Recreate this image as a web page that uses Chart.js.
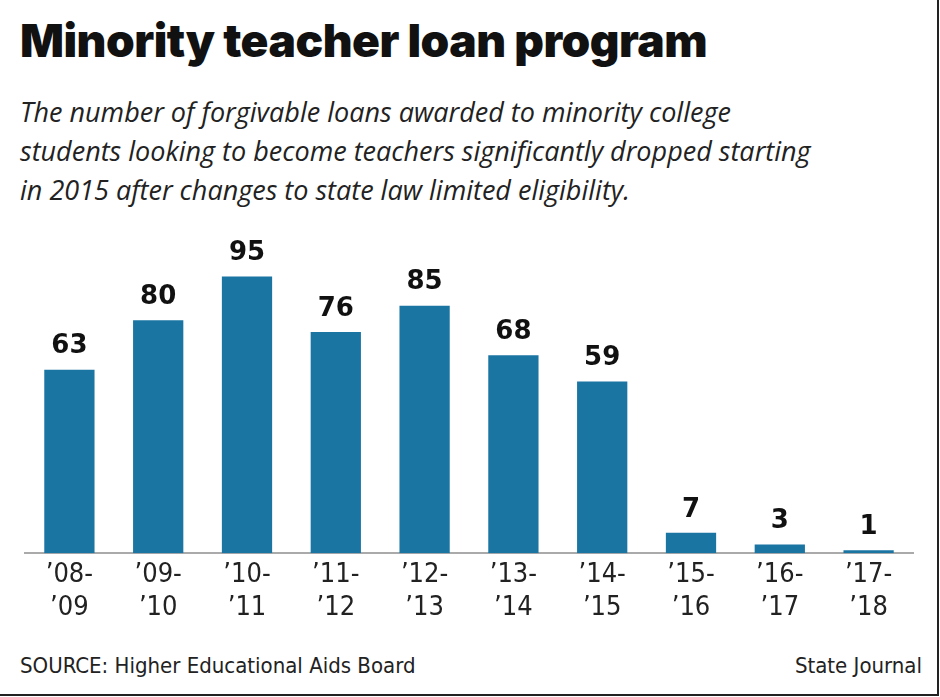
<!DOCTYPE html>
<html>
<head>
<meta charset="utf-8">
<script src="https://cdn.jsdelivr.net/npm/chart.js@4"></script>
<style>
  body { margin: 0; background: #fff; width: 940px; height: 697px; overflow: hidden; }
  #frame { position: absolute; left: 0; top: 0; width: 937px; height: 694px; border-right: 2px solid #222; border-bottom: 2px solid #222; }
  h1 { position: absolute; left: 20px; top: 12px; margin: 0; font: 900 46px Inter, sans-serif; letter-spacing: -0.5px; color: #111; }
  #sub { position: absolute; left: 20px; top: 92px; width: 910px; font: italic 27px "Open Sans", sans-serif; line-height: 39px; color: #222; white-space: nowrap; }
  #wrap { position: absolute; left: 0; top: 200px; width: 940px; height: 440px; }
  .foot { position: absolute; top: 653px; font: 22px "DejaVu Sans Condensed", "DejaVu Sans", sans-serif; color: #222; }
</style>
</head>
<body>
<div id="frame"></div>
<h1>Minority teacher loan program</h1>
<div id="sub">The number of forgivable loans awarded to minority college<br>students looking to become teachers significantly dropped starting<br>in 2015 after changes to state law limited eligibility.</div>
<div id="wrap"><canvas id="chart"></canvas></div>
<div class="foot" style="left:20px">SOURCE: Higher Educational Aids Board</div>
<div class="foot" style="right:18px">State Journal</div>
<script>
const categories = [['’08-', '’09'], ['’09-', '’10'], ['’10-', '’11'], ['’11-', '’12'], ['’12-', '’13'],
                    ['’13-', '’14'], ['’14-', '’15'], ['’15-', '’16'], ['’16-', '’17'], ['’17-', '’18']];
const loans = [63, 80, 95, 76, 85, 68, 59, 7, 3, 1];

const barLabels = {
  id: 'barLabels',
  afterDatasetsDraw(chart) {
    const c = chart.ctx;
    c.save();
    c.font = 'bold 26px "DejaVu Sans", sans-serif';
    c.fillStyle = '#111';
    c.textAlign = 'center';
    c.textBaseline = 'bottom';
    chart.getDatasetMeta(0).data.forEach((bar, i) => {
      c.fillText(loans[i], bar.x, bar.y - 10);
    });
    c.restore();
  }
};

new Chart(document.getElementById('chart'), {
  type: 'bar',
  data: {
    labels: categories,
    datasets: [{
      data: loans,
      backgroundColor: '#1a75a3',
      categoryPercentage: 1,
      barPercentage: 0.566
    }]
  },
  options: {
    responsive: true,
    maintainAspectRatio: false,
    animation: false,
    layout: { padding: { left: 25, right: 27, top: 62, bottom: 10 } },
    plugins: { legend: { display: false }, tooltip: { enabled: false } },
    scales: {
      y: { display: false, min: 0, max: 100 },
      x: {
        grid: { display: false, drawTicks: false },
        border: { color: '#aaa', width: 2 },
        ticks: { color: '#222', font: { size: 27, family: '"DejaVu Sans Condensed", "DejaVu Sans", sans-serif' }, padding: 6, maxRotation: 0 }
      }
    }
  },
  plugins: [barLabels]
});
</script>
</body>
</html>
